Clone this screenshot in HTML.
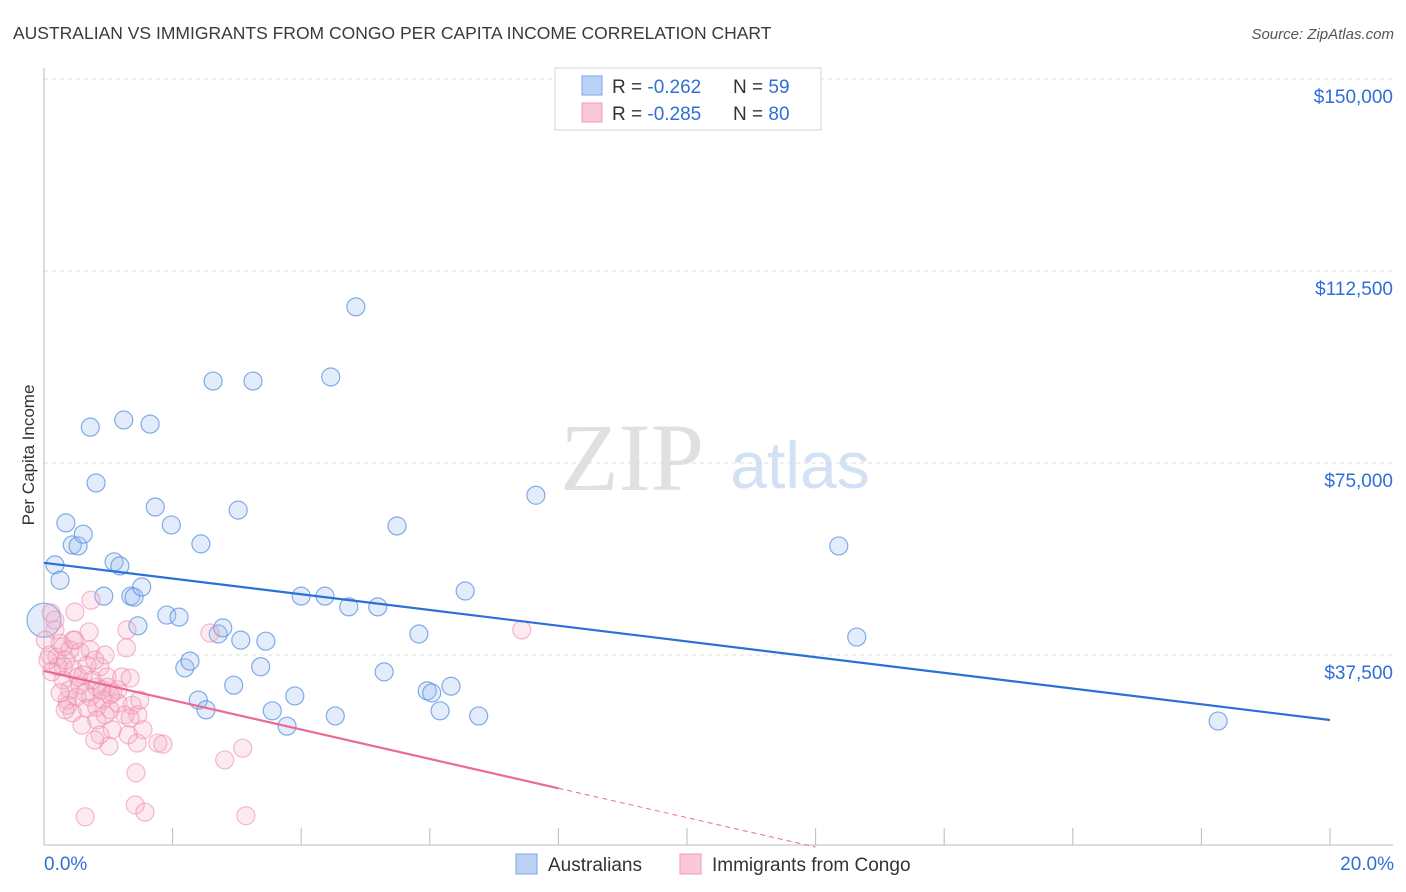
<!DOCTYPE html>
<html><head><meta charset="utf-8"><style>
body{margin:0;background:#fff;font-family:"Liberation Sans",sans-serif}
svg{display:block}
</style></head><body>
<svg id="chart" width="1406" height="892">
<text x="13" y="39" font-size="17.5" fill="#3a3a3a">AUSTRALIAN VS IMMIGRANTS FROM CONGO PER CAPITA INCOME CORRELATION CHART</text>
<text x="1394" y="39" font-size="15" fill="#555" font-style="italic" text-anchor="end">Source: ZipAtlas.com</text>
<text x="34" y="455" font-size="17" fill="#333" text-anchor="middle" transform="rotate(-90 34 455)">Per Capita Income</text>
<g><text x="632" y="490" font-size="96" fill="#e0e0e0" font-family="Liberation Serif,serif" text-anchor="middle">ZIP</text><text x="800" y="488" font-size="66" fill="#d3e1f5" text-anchor="middle">atlas</text></g>
<g id="grid"></g><g id="pts"></g><g id="lines"></g>
<g>
<rect x="555" y="68" width="266" height="62" fill="#fff" stroke="#d5d5d5"/>
<rect x="582" y="76" width="20" height="19" fill="#b9d2f5" stroke="#7aa6e6"/>
<rect x="582" y="103" width="20" height="19" fill="#fbc8d8" stroke="#f09ab7"/>
<text x="612" y="93" font-size="19" fill="#333">R = <tspan fill="#2e6fd6">-0.262</tspan><tspan x="733">N = </tspan><tspan fill="#2e6fd6">59</tspan></text>
<text x="612" y="120" font-size="19" fill="#333">R = <tspan fill="#2e6fd6">-0.285</tspan><tspan x="733">N = </tspan><tspan fill="#2e6fd6">80</tspan></text>
</g>
<g>
<rect x="516" y="854" width="21" height="20" fill="#b9d2f5" stroke="#7aa6e6"/><text x="548" y="871" font-size="19" fill="#333">Australians</text>
<rect x="680" y="854" width="21" height="20" fill="#fbc8d8" stroke="#f09ab7"/><text x="712" y="871" font-size="19" fill="#333">Immigrants from Congo</text>
</g>
<text x="44" y="870" font-size="19" fill="#2e6fd6">0.0%</text>
<text x="1394" y="870" font-size="19" fill="#2e6fd6" text-anchor="end">20.0%</text>
</svg>
<script>
const yTicks=[37500,75000,112500,150000];
const yTickLabels=["$37,500","$75,000","$112,500","$150,000"];
const xTicks=[0,2,4,6,8,10,12,14,16,18,20];
const ausX=[0,.17,.25,.34,.44,.53,.61,.72,.81,.93,1.09,1.18,1.24,1.35,1.40,1.46,1.52,1.65,1.73,1.91,1.98,2.10,2.19,2.27,2.40,2.44,2.52,2.63,2.71,2.78,2.95,3.02,3.06,3.25,3.37,3.45,3.55,3.78,3.90,4.0,4.37,4.46,4.53,4.74,4.85,5.19,5.29,5.49,5.83,5.96,6.03,6.16,6.33,6.55,6.76,7.65,12.36,12.64,18.26];
const ausY=[44.3,55.1,52.1,63.3,59.0,58.8,61.1,82.0,71.1,49.0,55.7,54.9,83.4,49.0,48.8,43.2,50.8,82.6,66.4,45.3,62.9,44.9,35.0,36.3,28.7,59.2,26.8,91.0,41.6,42.8,31.6,65.8,40.4,91.0,35.2,40.2,26.6,23.6,29.5,49.0,49.0,91.8,25.6,46.9,105.5,46.9,34.2,62.7,41.6,30.5,30.1,26.6,31.4,50.0,25.6,68.7,58.8,41.0,24.6];
const conX=[.11,.48,.73,.70,1.29,1.28,.17,.09,.20,.30,.45,.56,.72,.30,.45,.87,.67,.98,1.21,1.34,.30,.40,.56,.82,.98,1.07,.36,.51,.72,.92,.37,.67,.82,1.03,.82,.95,1.37,1.46,1.54,1.06,1.31,1.45,1.77,1.85,1.01,2.58,2.81,3.09,1.43,1.42,1.57,.64,3.14,.17,.25,.22,.53,.75,.64,.44,1.15,7.43,.02,.06,.12,.34,.40,.61,.79,.90,1.15,1.26,.87,.33,.59,1.03,.48,.25,.79,1.34,1.49,.95];
const conY=[45.7,45.9,48.2,42.0,42.4,38.9,42.4,37.5,37.1,39.1,40.4,38.1,38.5,35.2,34.6,35.2,35.5,33.2,33.2,33.0,32.6,30.7,31.6,31.2,31.2,30.1,28.7,29.3,29.3,28.7,27.7,27.1,27.3,26.8,24.8,25.8,27.7,25.8,22.9,22.9,21.9,20.3,20.3,20.1,19.7,41.8,17.0,19.3,14.5,8.2,6.8,5.9,6.1,44.3,39.8,35.2,33.2,32.6,30.1,26.2,28.1,42.4,40.4,36.5,34.2,36.5,38.5,33.6,36.5,30.7,30.7,25.8,21.9,26.8,23.8,29.7,40.4,30.1,20.9,25.2,28.7,37.5];
const ausTrend=[55.5,24.8];
const conTrend=[34.4,0,8.0];
const NS="http://www.w3.org/2000/svg";
const X=v=>44+v/20*1286, Y=v=>847-v/37500*192;
function mk(t,a,p){const e=document.createElementNS(NS,t);for(const k in a)e.setAttribute(k,a[k]);p.appendChild(e);return e;}
const grid=document.getElementById('grid');
mk('line',{x1:44,y1:79,x2:1393,y2:79,stroke:'#ddd','stroke-dasharray':'4 4'},grid);
yTicks.forEach((t,i)=>{
 const l=mk('line',{x1:44,y1:Y(t),x2:1393,y2:Y(t),stroke:'#ddd','stroke-dasharray':'4 4'},grid);
 
 
 const tx=mk('text',{x:1393,y:Y(t)+24,'font-size':19,fill:'#2e6fd6','text-anchor':'end'},grid);tx.textContent=yTickLabels[i];
 
 
});
mk('line',{x1:44,y1:68,x2:44,y2:845,stroke:'#bbb'},grid);
mk('line',{x1:44,y1:845,x2:1393,y2:845,stroke:'#bbb'},grid);
xTicks.forEach(t=>{const l=mk('line',{x1:X(t),y1:828,x2:X(t),y2:845,stroke:'#bbb'},grid);
 
 });
const pts=document.getElementById('pts');
ausX.forEach((x,i)=>{const c=mk('circle',{cx:X(x),cy:Y(ausY[i]*1000),r:i===0?17:9,fill:'rgba(160,192,240,0.3)',stroke:'rgba(90,145,225,0.75)','stroke-width':1.2},pts);
 
 });
conX.forEach((x,i)=>{const c=mk('circle',{cx:X(x),cy:Y(conY[i]*1000),r:9,fill:'rgba(245,170,195,0.25)',stroke:'rgba(238,140,175,0.6)','stroke-width':1.2},pts);
 
 });
const lines=document.getElementById('lines');
const b=mk('line',{x1:X(0),y1:Y(ausTrend[0]*1000),x2:X(20),y2:Y(ausTrend[1]*1000),stroke:'#2b6fd8','stroke-width':2.2},lines);


const pv=x=>conTrend[0]+(conTrend[1]-conTrend[0])*x/12;
const p=mk('line',{x1:X(0),y1:Y(pv(0)*1000),x2:X(conTrend[2]),y2:Y(pv(conTrend[2])*1000),stroke:'#eb6a94','stroke-width':2.2},lines);


const pd=mk('line',{x1:X(conTrend[2]),y1:Y(pv(conTrend[2])*1000),x2:X(12),y2:Y(0),stroke:'#eb6a94','stroke-width':1,'stroke-dasharray':'5 4'},lines);


</script>
</body></html>
